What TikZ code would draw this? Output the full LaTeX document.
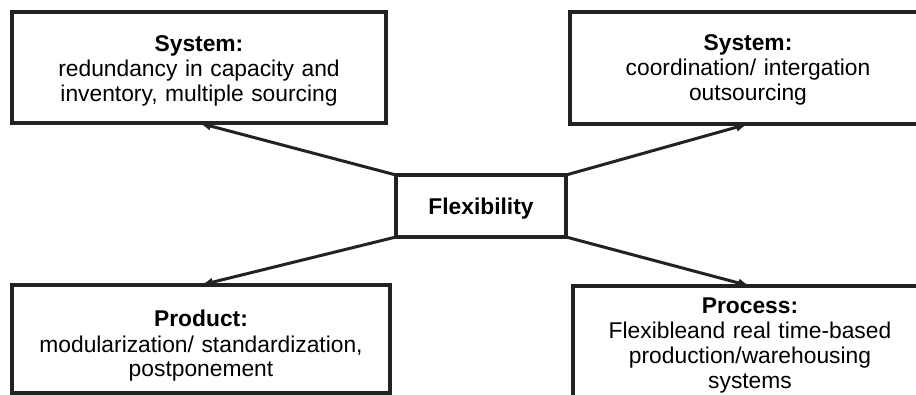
\documentclass[tikz,border=0pt]{standalone}
\usepackage{fontspec}
\setmainfont{Liberation Sans}
\usetikzlibrary{arrows.meta}
\definecolor{boxline}{HTML}{222222}

\begin{document}
\begin{tikzpicture}[x=1pt,y=-1pt,
    box/.style={draw=boxline,line width=4pt,inner sep=0pt,outer sep=0pt,
        anchor=north west,align=center,font=\fontsize{22.8}{25}\selectfont},
    link/.style={draw=boxline,line width=3pt,-{Latex[length=12pt,width=9pt]}}]
    \useasboundingbox (0,0) rectangle (916,395);
    \node[box,text width=374pt,text height=39.5pt,text depth=71.5pt] (sysa) at (12,12)
        {\textbf{System:}\\ redundancy in capacity and\\ inventory, multiple sourcing};
    \node[box,text width=356pt,text height=38.5pt,text depth=73pt] (sysb) at (570,12.5)
        {\textbf{System:}\\ coordination/ intergation\\ outsourcing};
    \node[box,text width=170pt,text height=40pt,text depth=22pt] (flex) at (396,175)
        {\textbf{Flexibility}};
    \node[box,text width=378pt,text height=42pt,text depth=66pt] (prod) at (12,285)
        {\textbf{Product:}\\ modularization/ standardization,\\ postponement};
    \node[box,text width=354pt,text height=28pt,text depth=96pt] (proc) at (573,286)
        {\textbf{Process:}\\ Flexibleand real time-based\\ production/warehousing\\ systems};
    \draw[link] (flex.north west) -- (sysa.south);
    \draw[link] (flex.north east) -- (sysb.south);
    \draw[link] (flex.south west) -- (prod.north);
    \draw[link] (flex.south east) -- (proc.north);
\end{tikzpicture}
\end{document}
